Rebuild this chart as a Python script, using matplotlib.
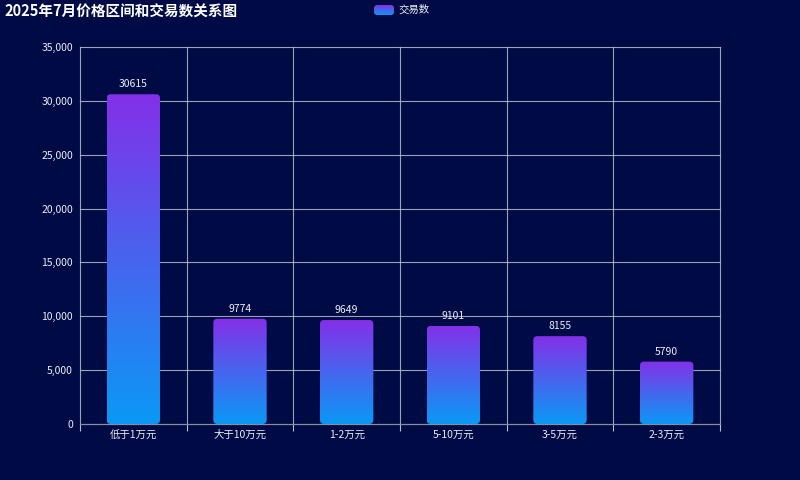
import numpy as np
import matplotlib
matplotlib.use('Agg')
import matplotlib.pyplot as plt
from matplotlib.patches import FancyBboxPatch
from matplotlib.colors import LinearSegmentedColormap
from matplotlib.ticker import FuncFormatter, MultipleLocator

plt.rcParams['font.family'] = ['Noto Sans CJK SC', 'DejaVu Sans']

# 数据
categories = ['低于1万元', '大于10万元', '1-2万元', '5-10万元', '3-5万元', '2-3万元']
counts = [30615, 9774, 9649, 9101, 8155, 5790]

BG = '#000b45'
TXT = '#eceef6'
GRID = '#b8bccc'
grad = LinearSegmentedColormap.from_list('bar', ['#0a99f5', '#8430e8'])
gradient = np.linspace(0, 1, 256).reshape(-1, 1)

fig = plt.figure(figsize=(8, 4.8), dpi=100)
fig.patch.set_facecolor(BG)
ax = fig.add_axes([0.1, 0.1167, 0.8, 0.7853])
ax.set_facecolor(BG)

n = len(categories)
ax.set_xlim(-0.5, n - 0.5)
ax.set_ylim(0, 35000)

# 圆角比例：像素转数据
bbox = ax.get_window_extent()
x_per_px = n / bbox.width
y_per_px = 35000 / bbox.height
aspect = y_per_px / x_per_px
radius = 4 * x_per_px

bar_w = 0.5
for i, v in enumerate(counts):
    x0 = i - bar_w / 2
    patch = FancyBboxPatch((x0, 0), bar_w, v,
                           boxstyle=f'round,pad=0,rounding_size={radius}',
                           mutation_aspect=aspect,
                           facecolor='none', edgecolor='none', zorder=3)
    ax.add_patch(patch)
    im = ax.imshow(gradient, cmap=grad, origin='lower', aspect='auto',
                   extent=(x0, x0 + bar_w, 0, v), zorder=3)
    im.set_clip_path(patch)
    ax.text(i, v + 450, str(v), ha='center', va='bottom',
            color=TXT, fontsize=7.5, zorder=4)

ax.set_xlim(-0.5, n - 0.5)
ax.set_ylim(0, 35000)

# 网格与坐标轴
ax.yaxis.set_major_locator(MultipleLocator(5000))
ax.yaxis.set_major_formatter(FuncFormatter(lambda v, p: f'{int(v):,}'))
ax.set_xticks(np.arange(-0.5, n, 1.0))
ax.set_xticklabels([])
ax.set_xticks(range(n), minor=True)
ax.set_xticklabels(categories, minor=True)
ax.tick_params(axis='x', which='major', length=5, color=GRID, width=0.8)
ax.tick_params(axis='x', which='minor', length=0, colors=TXT, labelsize=7.5, pad=4)
ax.tick_params(axis='y', length=0, colors=TXT, labelsize=7.5, pad=5)
ax.grid(True, which='major', color=GRID, linewidth=0.8, alpha=0.85, zorder=0)
for line in ax.get_xgridlines() + ax.get_ygridlines():
    line.set_clip_on(False)
for side in ['top', 'right', 'left']:
    ax.spines[side].set_visible(False)
ax.spines['bottom'].set_color('#8a8ea0')
ax.set_axisbelow(True)

# 标题
fig.text(0.006, 0.976, '2025年7月价格区间和交易数关系图', ha='left', va='center',
         color='white', fontsize=10.5, fontweight='bold')

# 图例
lax = fig.add_axes([374 / 800, 1 - 15 / 480, 20 / 800, 10 / 480])
lax.set_xlim(0, 1)
lax.set_ylim(0, 1)
lax.axis('off')
lpatch = FancyBboxPatch((0, 0), 1, 1, boxstyle='round,pad=0,rounding_size=0.15',
                        mutation_aspect=2.0, facecolor='none', edgecolor='none',
                        transform=lax.transAxes)
lax.add_patch(lpatch)
lim = lax.imshow(gradient, cmap=grad, origin='lower', aspect='auto', extent=(0, 1, 0, 1))
lim.set_clip_path(lpatch)
fig.text(398 / 800, 1 - 9.5 / 480, '交易数', ha='left', va='center', color=TXT, fontsize=7.5)

plt.savefig('out.png', dpi=100, facecolor=fig.get_facecolor())
